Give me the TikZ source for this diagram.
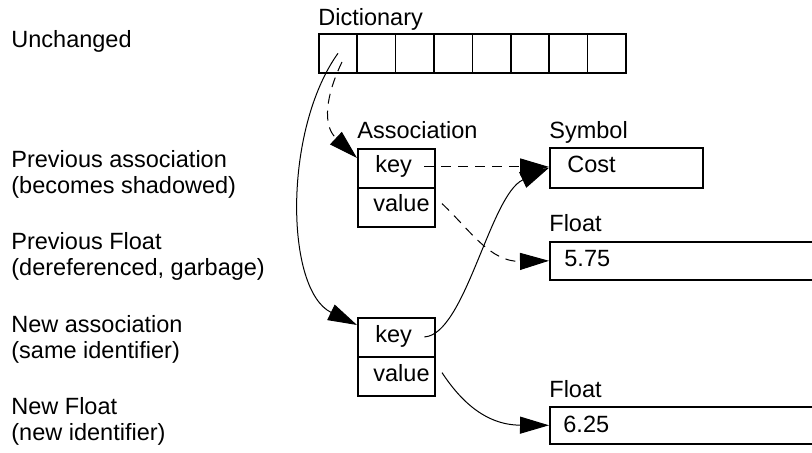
\documentclass[tikz,border=0pt]{standalone}
\usepackage{fontspec}
\setmainfont{Liberation Sans}
\usetikzlibrary{arrows.meta,positioning}

\tikzset{
  box/.style={draw, line width=0.8pt, anchor=north west, inner sep=0pt},
  cellbox/.style={box, minimum width=19.2pt, minimum height=19.5pt},
  slot/.style={box, minimum width=38.5pt, minimum height=19.5pt},
  word/.style={inner sep=0pt, anchor=base west},
  fieldtext/.style={word, inner xsep=6pt},
  note/.style={inner sep=0pt, anchor=west, align=left},
  ptr/.style={line width=0.5pt, -{Triangle[length=14.5pt,width=8.5pt]}},
  weakref/.style={ptr, dash pattern=on 5pt off 3.5pt}
}

\begin{document}
\begin{tikzpicture}[x=0.5pt, y=-0.5pt, font=\fontsize{11.75}{13}\selectfont]
	\clip (0,0) rectangle (812,453);
	% left column
	\node[word] (unch) at (11,48) {Unchanged};
	\node[note] (prevassoc) at (11,174) {Previous association\\(becomes shadowed)};
	\node[note] (prevfloat) at (11,256) {Previous Float\\(dereferenced, garbage)};
	\node[note] (newassoc) at (11,339) {New association\\(same identifier)};
	\node[note] (newfloat) at (11,421) {New Float\\(new identifier)};
	% dictionary
	\node[word] (dictlbl) at (318,26) {Dictionary};
	\foreach \i in {1,...,8}
		\node[cellbox] (d\i) at ({318+(\i-1)*38.4},33) {};
	\coordinate (dk) at (342,62);
	% previous association
	\node[word] (assoc1lbl) at (357,139) {Association};
	\node[slot] (a1key) at (357,148) {};
	\node[slot] (a1val) at (357,187) {};
	\node[fieldtext] (k1) at (363,173) {key};
	\node[fieldtext] (v1) at (361,212) {value};
	% symbol
	\node[word] (symlbl) at (549,139) {Symbol};
	\node[box, minimum width=76.5pt, minimum height=20pt] (sym) at (549,147) {};
	\node[word] (cost) at (567,173) {Cost};
	% previous float
	\node[word] (float1lbl) at (549,232) {Float};
	\node[box, minimum width=140pt, minimum height=19pt] (f1) at (549,241) {};
	\node[word] (val1) at (564,267) {5.75};
	% new association
	\node[slot] (a2key) at (357,317) {};
	\node[slot] (a2val) at (357,356) {};
	\node[fieldtext] (k2) at (363,343) {key};
	\node[fieldtext] (v2) at (361,381) {value};
	% new float
	\node[word] (float2lbl) at (549,397) {Float};
	\node[box, minimum width=140pt, minimum height=18.5pt] (f2) at (549,406) {};
	\node[word] (val2) at (563,432) {6.25};
	% references
	\draw[weakref] (dk) .. controls (326,95) and (322,125) .. ([yshift=-5pt]a1key.north west);
	\draw[ptr] (d1.center) .. controls (283,130) and (285,290) .. ([yshift=-4pt]a2key.north west);
	\draw[weakref] (k1.east) -- (k1.east -| sym.west);
	\draw[weakref] (v1.east) .. controls (470,230) and (490,262) .. (f1.west);
	\draw[ptr] (k2.east) .. controls (465,335) and (490,195) .. (sym.west);
	\draw[ptr] (v2.east) .. controls (460,400) and (485,425) .. (f2.west);
\end{tikzpicture}
\end{document}
